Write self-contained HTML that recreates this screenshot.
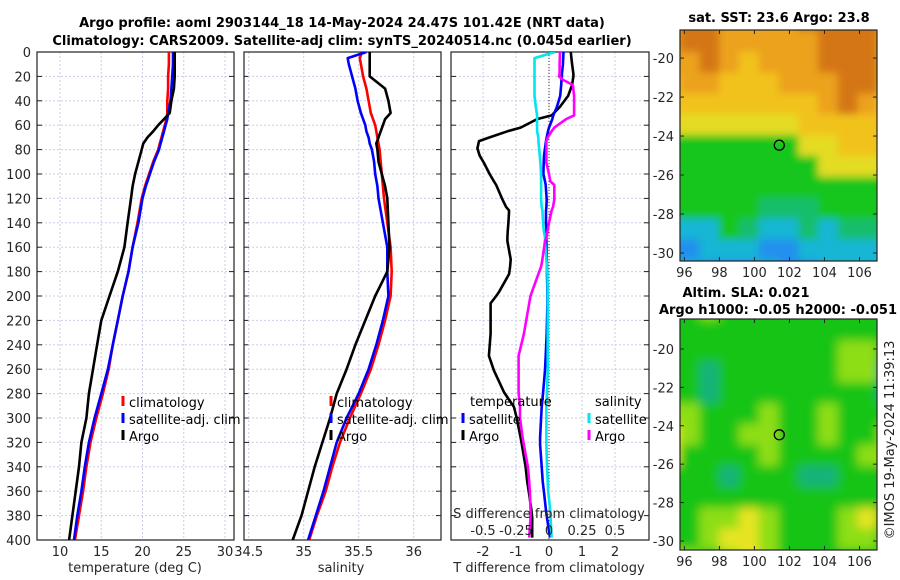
<!DOCTYPE html>
<html><head><meta charset="utf-8"><style>
body{margin:0;background:#fff;}
svg{display:block;font-family:"DejaVu Sans","Liberation Sans",sans-serif;}
</style></head><body>
<svg id="fig" width="900" height="580" viewBox="0 0 900 580" xmlns="http://www.w3.org/2000/svg">
<defs>
<clipPath id="c1"><rect x="37" y="52" width="197" height="488"/></clipPath>
<clipPath id="c2"><rect x="244" y="52" width="197" height="488"/></clipPath>
<clipPath id="c3"><rect x="451" y="52" width="198" height="488"/></clipPath>
<filter id="blur1"><feGaussianBlur stdDeviation="4"/></filter>
<filter id="blur2"><feGaussianBlur stdDeviation="5"/></filter>
<clipPath id="cm1"><rect x="680" y="30" width="197" height="231"/></clipPath>
<clipPath id="cm2"><rect x="680" y="319" width="197" height="231"/></clipPath>
</defs>
<g font-weight="bold" font-size="13" fill="#000" text-anchor="middle">
<text x="342" y="27">Argo profile: aoml 2903144_18 14-May-2024 24.47S 101.42E (NRT data)</text>
<text x="342" y="45">Climatology: CARS2009. Satellite-adj clim: synTS_20240514.nc (0.045d earlier)</text>
<text x="779" y="22">sat. SST: 23.6 Argo: 23.8</text>
<text x="746" y="297">Altim. SLA: 0.021</text>
<text x="778" y="314">Argo h1000: -0.05 h2000: -0.051</text>
</g>
<text transform="translate(894,440) rotate(-90)" font-size="13" text-anchor="middle" fill="#222">©IMOS 19-May-2024 11:39:13</text>
<g id="root"></g>
</svg>
<script>
// ---- data ----
const depths = [0,5,10,20,30,40,50,55,60,65,70,75,80,90,100,110,120,140,160,180,200,220,240,260,280,300,320,340,360,380,400];
const tempArgo = [23.9,23.9,23.9,23.9,23.8,23.5,23.3,22.6,21.9,21.3,20.6,20.1,19.9,19.5,19.1,18.8,18.6,18.2,17.8,17.0,16.0,15.0,14.5,14.0,13.5,13.2,12.6,12.3,11.9,11.5,11.1];
const tempSat  = [23.7,23.7,23.7,23.6,23.5,23.4,23.1,23.0,22.8,22.6,22.4,22.2,22.0,21.4,20.9,20.4,20.0,19.5,18.8,18.3,17.6,17.0,16.4,15.8,15.0,14.2,13.5,13.0,12.6,12.1,11.7];
const tempClim = [23.2,23.2,23.2,23.1,23.1,23.0,23.0,22.9,22.7,22.5,22.3,22.1,21.9,21.3,20.8,20.3,19.9,19.4,18.8,18.3,17.6,17.0,16.4,15.9,15.2,14.4,13.7,13.2,12.8,12.3,11.8];
const salArgo = [35.60,35.60,35.60,35.60,35.74,35.77,35.79,35.74,35.72,35.70,35.68,35.66,35.67,35.68,35.71,35.74,35.76,35.77,35.78,35.76,35.65,35.56,35.47,35.39,35.30,35.24,35.17,35.10,35.04,34.98,34.90];
const salSat  = [35.57,35.40,35.41,35.44,35.47,35.49,35.52,35.54,35.56,35.57,35.59,35.60,35.62,35.64,35.65,35.67,35.68,35.72,35.76,35.76,35.77,35.72,35.66,35.59,35.50,35.39,35.30,35.24,35.18,35.11,35.04];
const salClim = [35.53,35.51,35.52,35.54,35.57,35.59,35.61,35.63,35.65,35.66,35.67,35.68,35.69,35.70,35.71,35.72,35.73,35.76,35.79,35.80,35.79,35.74,35.68,35.61,35.52,35.42,35.33,35.26,35.20,35.12,35.05];
const dDepths = [0,5,10,18,20,23,27,36,45,52,55,62,65,70,73,79,85,91,100,106,109,121,127,130,140,146,152,155,170,176,182,197,200,206,231,249,261,279,291,300,316,322,340,352,361,376,382,398];
const dTArgo = [0.66,0.68,0.70,0.74,0.74,0.72,0.70,0.58,0.33,0.08,-0.36,-0.86,-1.26,-1.8,-2.12,-2.17,-2.10,-1.97,-1.80,-1.67,-1.60,-1.41,-1.30,-1.21,-1.23,-1.25,-1.26,-1.26,-1.16,-1.18,-1.21,-1.52,-1.60,-1.77,-1.77,-1.82,-1.67,-1.36,-1.06,-0.98,-0.86,-0.82,-0.71,-0.66,-0.61,-0.53,-0.51,-0.51];
const dTSat = [0.44,0.43,0.42,0.39,0.39,0.38,0.37,0.34,0.24,0.13,0.10,0.00,-0.03,-0.07,-0.09,-0.12,-0.15,-0.16,-0.17,-0.12,-0.10,-0.07,-0.08,-0.09,-0.09,-0.08,-0.08,-0.08,-0.07,-0.06,-0.06,-0.05,-0.05,-0.05,-0.07,-0.10,-0.12,-0.18,-0.22,-0.24,-0.27,-0.27,-0.22,-0.19,-0.15,-0.09,-0.06,0.03];
const dSSat = [0.045,-0.11,-0.11,-0.11,-0.11,-0.11,-0.11,-0.11,-0.10,-0.09,-0.09,-0.09,-0.09,-0.08,-0.08,-0.075,-0.07,-0.065,-0.06,-0.06,-0.06,-0.06,-0.055,-0.05,-0.045,-0.04,-0.03,-0.03,-0.02,-0.015,-0.012,-0.01,-0.01,-0.01,-0.01,-0.01,-0.01,-0.015,-0.02,-0.02,-0.02,-0.02,-0.015,-0.01,-0.005,0.01,0.012,0.02];
const dSArgo = [0.083,0.082,0.08,0.08,0.075,0.11,0.18,0.19,0.19,0.19,0.13,0.04,0.02,-0.01,-0.02,-0.02,-0.02,-0.02,0.0,0.01,0.04,0.04,0.03,0.02,0.0,-0.01,-0.02,-0.03,-0.05,-0.06,-0.08,-0.13,-0.14,-0.15,-0.19,-0.23,-0.23,-0.23,-0.22,-0.22,-0.20,-0.19,-0.16,-0.15,-0.145,-0.14,-0.14,-0.15];
const depthTicks = [0,20,40,60,80,100,120,140,160,180,200,220,240,260,280,300,320,340,360,380,400];
const tTicks = [10,15,20,25,30];
const sTicks = [34.5,35,35.5,36];
const dtTicks = [-2,-1,0,1,2];
const dsTicks = [-0.5,-0.25,0,0.25,0.5];
const lonTicks = [96,98,100,102,104,106];
const latTicks = [-20,-22,-24,-26,-28,-30];
const argoLon = 101.42, argoLat = -24.47;
const sstGrid = ["OooOOOOooooo","OooOOOOOoooO","OOoOYOOOoooO","YOOYYYOOOooO","YYYYYYYYOoOY","yyyyyyyYYYYY","gggggggyyYYY","ggggggggyyyy","gggggggggggg","gggggtttgggg","cccgtcctcttt","bbcccbbccccc","ccbbbcbbcccc"];
const slaGrid = ["GGLGGGGGGGGG","GGGGGGGGGGGG","GGGGGGGGGLLG","GGTGGGGGGLLT","GGTGGGGGGGGT","LLGGGLGGLGGG","YLGGLLGGLGGL","YGGGGLGGGGLL","GGGTGGGTTGGG","GGGGGGGGGGGG","GGLLYLGGGLYG","GGLYYLGGGLLG","OLGLYLGGGGGG"];
// ---- helpers ----
const NS="http://www.w3.org/2000/svg";
const root=document.getElementById('root');
function mk(tag,attrs,parent){const e=document.createElementNS(NS,tag);for(const k in attrs)e.setAttribute(k,attrs[k]);(parent||root).appendChild(e);return e;}
const y0=52,y1=540;
const yD=d=>y0+d*(y1-y0)/400;
const xT=t=>60+(t-10)*8.25;
const xS=s=>248.7+(s-34.5)*110;
const xDT=v=>549+v*33;
const xDS=v=>549+v*132;
const grid='#c9cde6';
function panelFrame(px,w,name,xticks,xf){
  const g=mk('g',{});
  
  
  depthTicks.forEach(d=>{const l=mk('line',{x1:px,x2:px+w,y1:yD(d),y2:yD(d),stroke:grid,'stroke-width':1,'stroke-dasharray':'2,2'},g);
    
    
    mk('line',{x1:px,x2:px+5,y1:yD(d),y2:yD(d),stroke:'#222'},g);
    mk('line',{x1:px+w-5,x2:px+w,y1:yD(d),y2:yD(d),stroke:'#222'},g);});
  xticks.forEach(t=>{const x=xf(t);const l=mk('line',{x1:x,x2:x,y1:y0,y2:y1,stroke:grid,'stroke-width':1,'stroke-dasharray':'2,2'},g);
    
    });
  mk('rect',{x:px,y:y0,width:w,height:y1-y0,fill:'none',stroke:'#222','stroke-width':1.2},g);
  return g;
}
function line(xs,ds,xf,color,clip,name,w){
  const pts=xs.map((v,i)=>xf(v).toFixed(1)+','+yD(ds[i]).toFixed(1)).join(' ');
  const p=mk('polyline',{points:pts,fill:'none',stroke:color,'stroke-width':w||2.6,'stroke-linejoin':'round','clip-path':'url(#'+clip+')'});
  
  
}
function txt(x,y,s,anchor,name,size,fill){const t=mk('text',{x:x,y:y,'font-size':size||13,'text-anchor':anchor||'middle',fill:fill||'#262626'});t.textContent=s;
  
  return t;}
// panel 1
panelFrame(37,197,'temperature-panel',tTicks,xT);
depthTicks.forEach(d=>txt(31,yD(d)+5,String(d),'end','depth-tick-label'));
tTicks.forEach(t=>txt(xT(t),556,String(t),'middle','temperature-tick-label'));
txt(135,572,'temperature (deg C)','middle','temperature-axis-title');
line(tempClim,depths,xT,'#ff0000','c1','temp-climatology-line');
line(tempSat,depths,xT,'#0000ff','c1','temp-satellite-line');
line(tempArgo,depths,xT,'#000000','c1','temp-argo-line');
// panel 2
panelFrame(244,197,'salinity-panel',sTicks,xS);
sTicks.forEach(t=>txt(xS(t),556,String(t),'middle','salinity-tick-label'));
txt(341,572,'salinity','middle','salinity-axis-title');
line(salClim,depths,xS,'#ff0000','c2','sal-climatology-line');
line(salSat,depths,xS,'#0000ff','c2','sal-satellite-line');
line(salArgo,depths,xS,'#000000','c2','sal-argo-line');
// panel 3
panelFrame(451,198,'difference-panel',dtTicks,xDT);
const zl=mk('line',{x1:549,x2:549,y1:y0,y2:y1,stroke:'#333','stroke-width':1,'stroke-dasharray':'1,2'});


line(dTArgo,dDepths,xDT,'#000000','c3','t-diff-argo-line');
line(dTSat,dDepths,xDT,'#0000ff','c3','t-diff-satellite-line');
line(dSSat,dDepths,xDS,'#00e5ee','c3','s-diff-satellite-line');
line(dSArgo,dDepths,xDS,'#ff00ff','c3','s-diff-argo-line');
dtTicks.forEach(t=>txt(xDT(t),556,String(t),'middle','t-diff-tick-label'));
txt(549,572,'T difference from climatology','middle','t-diff-axis-title');
txt(549,518,'S difference from climatology','middle','s-diff-axis-title');
dsTicks.forEach(t=>txt(xDS(t),535,String(t),'middle','s-diff-tick-label'));
// legends
function legend(x,y,color,label,name){const m=mk('line',{x1:x,x2:x,y1:y-10,y2:y,stroke:color,'stroke-width':3});
  
  
  txt(x+6,y+1,label,'start',name,13,'#000');}
[123,331].forEach(lx=>{
  legend(lx,406,'#ff0000','climatology','legend-climatology');
  legend(lx,423,'#0000ff','satellite-adj. clim','legend-satellite');
  legend(lx,440,'#000000','Argo','legend-argo');
});
txt(470,406,'temperature','start','legend-temperature-header',13,'#000');
legend(463,423,'#0000ff','satellite','legend-t-satellite');
legend(463,440,'#000000','Argo','legend-t-argo');
txt(595,406,'salinity','start','legend-salinity-header',13,'#000');
legend(589,423,'#00e5ee','satellite','legend-s-satellite');
legend(589,440,'#ff00ff','Argo','legend-s-argo');
// maps
const sstCol={o:'#d47612',O:'#eca21a',Y:'#f2c21e',y:'#e4dc22',g:'#18c61c',t:'#12be6c',c:'#14b6d4',b:'#2090ee'};
const slaCol={G:'#14c416',L:'#8ede12',Y:'#e6e422',T:'#18b27a',O:'#f0c422'};
function map(top,latTop,latBot,gridArr,cols,clip,blur,name){
  const left=680,right=877,lonL=95.75,lonR=107.0;
  const bottom=top===30?261:550;
  const xL=lon=>left+(lon-lonL)*(right-left)/(lonR-lonL);
  const yL=lat=>top+(latTop-lat)*(bottom-top)/(latTop-latBot);
  const g=mk('g',{'clip-path':'url(#'+clip+')'});
  
  
  const inner=mk('g',{filter:'url(#'+blur+')'},g);
  const nr=gridArr.length,nc=gridArr[0].length;
  const cw=(right-left+40)/nc,ch=(bottom-top+40)/nr;
  gridArr.forEach((row,r)=>{for(let c=0;c<nc;c++){mk('rect',{x:left-20+c*cw,y:top-20+r*ch,width:cw+1,height:ch+1,fill:cols[row[c]]},inner);}});
  mk('rect',{x:left,y:top,width:right-left,height:bottom-top,fill:'none',stroke:'#222','stroke-width':1.2});
  latTicks.forEach(l=>{const y=yL(l);mk('line',{x1:left,x2:left+4,y1:y,y2:y,stroke:'#222'});mk('line',{x1:right-4,x2:right,y1:y,y2:y,stroke:'#222'});
    txt(674,y+5,String(l),'end','latitude-tick-label');});
  lonTicks.forEach(l=>{const x=xL(l);mk('line',{x1:x,x2:x,y1:bottom-4,y2:bottom,stroke:'#222'});mk('line',{x1:x,x2:x,y1:top,y2:top+4,stroke:'#222'});
    txt(x,bottom+16,String(l),'middle','longitude-tick-label');});
  const ci=mk('circle',{cx:xL(argoLon),cy:yL(argoLat),r:5,fill:'none',stroke:'#000','stroke-width':1.3});
  
  
}
map(30,-18.56,-30.41,sstGrid,sstCol,'cm1','blur1','sst-map');
map(319,-18.44,-30.47,slaGrid,slaCol,'cm2','blur2','sla-map');
</script>
</body></html>
